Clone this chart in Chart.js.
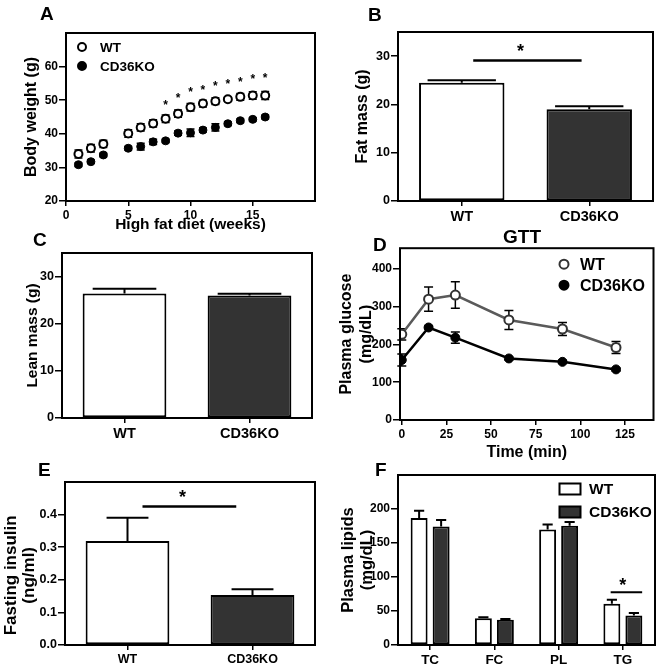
<!DOCTYPE html>
<html>
<head>
<meta charset="utf-8">
<script src="https://cdn.jsdelivr.net/npm/chart.js@4.4.1/dist/chart.umd.min.js"></script>
<style>
  html, body { margin: 0; padding: 0; background: #fff; }
  #fig { position: relative; width: 660px; height: 667px; overflow: hidden;
         font-family: "Liberation Sans", Arial, sans-serif; font-weight: bold; }
  #fig canvas { position: absolute; }
  .lbl { position: absolute; font-size: 19px; line-height: 1; color: #000; white-space: nowrap; }
</style>
</head>
<body>
<div id="fig">
  <canvas id="chartA"></canvas>
  <canvas id="chartB"></canvas>
  <canvas id="chartC"></canvas>
  <canvas id="chartD"></canvas>
  <canvas id="chartE"></canvas>
  <canvas id="chartF"></canvas>
  <div class="lbl" style="left:40px;top:4px">A</div>
  <div class="lbl" style="left:368px;top:5px">B</div>
  <div class="lbl" style="left:33px;top:230px">C</div>
  <div class="lbl" style="left:373px;top:235px">D</div>
  <div class="lbl" style="left:503px;top:227px">GTT</div>
  <div class="lbl" style="left:38px;top:460px">E</div>
  <div class="lbl" style="left:375px;top:460px">F</div>
</div>
<script>
// ---- data ----
const weeks = [1, 2, 3, 5, 6, 7, 8, 9, 10, 11, 12, 13, 14, 15, 16];
const wtWeight = [34.0, 35.7, 37.0, 40.1, 41.9, 43.1, 44.5, 46.0, 47.9, 49.0, 49.7, 50.3, 51.0, 51.4, 51.4];
const wtWeightErr = [1.2, 1.1, 1.1, 1.1, 1.1, 1.1, 1.1, 1.1, 1.1, 1.0, 1.0, 0.6, 1.0, 1.1, 1.2];
const koWeight = [30.8, 31.7, 33.7, 35.7, 36.2, 37.6, 37.9, 40.2, 40.3, 41.1, 41.9, 43.0, 43.9, 44.3, 45.0];
const koWeightErr = [0.5, 0.5, 0.5, 0.5, 1.0, 0.8, 0.5, 0.6, 1.1, 0.6, 1.1, 0.5, 0.5, 0.5, 0.5];
const starWeeks = [8, 9, 10, 11, 12, 13, 14, 15, 16];
const starWeight = [49.3, 51.3, 53.2, 53.8, 55.0, 55.7, 56.3, 57.1, 57.5];
const weekTicks = [0, 5, 10, 15];
const weightTicks = [20, 30, 40, 50, 60];

const groups = ["WT", "CD36KO"];
const fatMass = [24.5, 19.0];
const fatMassErr = [0.5, 0.6];
const leanMass = [26.4, 26.0];
const leanMassErr = [1.0, 0.35];
const massTicks = [0, 10, 20, 30];

const gttTimes = [0, 15, 30, 60, 90, 120];
const wtGlucose = [227, 320, 331, 265, 241, 192];
const wtGlucoseErr = [15, 32, 35, 25, 17, 16];
const koGlucose = [159, 245, 218, 163, 154, 134];
const koGlucoseErr = [16, 4, 15, 4, 4, 4];
const timeTicks = [0, 25, 50, 75, 100, 125];
const glucoseTicks = [0, 100, 200, 300, 400];

const insulin = [0.319, 0.153];
const insulinErr = [0.071, 0.018];
const insulinTicks = [0, 0.1, 0.2, 0.3, 0.4];

const lipidClasses = ["TC", "FC", "PL", "TG"];
const wtLipids = [186.7, 39.5, 170.0, 60.7];
const wtLipidsErr = [10.8, 1.2, 7.3, 6.0];
const koLipids = [174.3, 37.0, 175.3, 43.5];
const koLipidsErr = [9.4, 1.2, 5.7, 3.5];
const lipidTicks = [0, 50, 100, 150, 200];

// ---- layout (canvas and plot box, page pixels) ----
const layoutA = { canvas: { l: 0, t: 22, r: 325, b: 240 }, box: { l: 66, t: 33, r: 315, b: 201 } };
const layoutB = { canvas: { l: 335, t: 22, r: 660, b: 225 }, box: { l: 398, t: 32, r: 653, b: 201 } };
const layoutC = { canvas: { l: 0, t: 243, r: 325, b: 445 }, box: { l: 62, t: 253, r: 312, b: 418 } };
const layoutD = { canvas: { l: 330, t: 240, r: 660, b: 470 }, box: { l: 400, t: 248, r: 655, b: 420 } };
const layoutE = { canvas: { l: 0, t: 470, r: 325, b: 667 }, box: { l: 65, t: 482, r: 315, b: 645 } };
const layoutF = { canvas: { l: 330, t: 465, r: 660, b: 667 }, box: { l: 398, t: 475, r: 655, b: 645 } };

const FONT = '"Liberation Sans", Arial, sans-serif';
const KO_FILL = "#333333";

function font(size, lh) {
  return { family: FONT, size: size, weight: "bold", lineHeight: lh || 1.2 };
}

function place(id, p) {
  const el = document.getElementById(id);
  el.width = p.canvas.r - p.canvas.l;
  el.height = p.canvas.b - p.canvas.t;
  el.style.left = p.canvas.l + "px";
  el.style.top = p.canvas.t + "px";
  el.style.width = el.width + "px";
  el.style.height = el.height + "px";
  return el;
}

function yAxis(p, o) {
  const tf = font(o.titleSize, o.titleLH);
  return {
    min: o.min,
    max: o.max,
    afterFit: (s) => { s.width = p.box.l - p.canvas.l; },
    afterBuildTicks: (s) => { s.ticks = o.ticks.map((v) => ({ value: v })); },
    ticks: { font: font(o.tickSize), color: "#000", padding: 1, callback: o.fmt || ((v) => v) },
    grid: { drawOnChartArea: false, tickLength: 7, color: "#000", lineWidth: 1.5 },
    border: { display: false },
    title: {
      display: true, text: o.title, font: tf, color: "#000",
      padding: { top: o.titleX - p.canvas.l - (tf.size * tf.lineHeight) / 2, bottom: 0 }
    }
  };
}

function xAxis(p, o) {
  const ax = {
    afterFit: (s) => { s.height = p.canvas.b - p.box.b; },
    ticks: { font: font(o.tickSize), color: "#000", padding: 2, maxRotation: 0, autoSkip: false },
    grid: { drawOnChartArea: false, tickLength: 5, color: "#000", lineWidth: 1.5, offset: false },
    border: { display: false }
  };
  if (o.type) {
    ax.type = o.type;
    ax.min = o.min;
    ax.max = o.max;
    ax.afterBuildTicks = (s) => { s.ticks = o.ticks.map((v) => ({ value: v })); };
  }
  if (o.title) {
    const tf = font(o.titleSize);
    ax.title = {
      display: true, text: o.title, font: tf, color: "#000",
      padding: { top: 0, bottom: p.canvas.b - o.titleY - (tf.size * tf.lineHeight) / 2 }
    };
  }
  return ax;
}

function baseOptions(p, scales, plugins) {
  return {
    responsive: false,
    animation: false,
    devicePixelRatio: 1,
    events: [],
    layout: { padding: { top: p.box.t - p.canvas.t, right: p.canvas.r - p.box.r, left: 0, bottom: 0 } },
    scales: scales,
    plugins: Object.assign({ legend: { display: false }, tooltip: { enabled: false } }, plugins)
  };
}

// ---- plugins ----
const frame = {
  id: "frame",
  afterDraw(chart) {
    const { ctx, chartArea: a } = chart;
    ctx.save();
    ctx.lineWidth = 2;
    ctx.strokeStyle = "#000";
    ctx.strokeRect(a.left, a.top, a.right - a.left, a.bottom - a.top);
    ctx.restore();
  }
};

function drawErrors(chart, o) {
  const { ctx } = chart;
  ctx.save();
  ctx.strokeStyle = "#000";
  ctx.lineWidth = o.lineWidth || 2;
  chart.data.datasets.forEach((ds, i) => {
    if (!ds.err) return;
    const meta = chart.getDatasetMeta(i);
    const ys = chart.scales[meta.yAxisID];
    meta.data.forEach((el, j) => {
      const raw = ds.data[j];
      const v = typeof raw === "object" ? raw.y : raw;
      const e = ds.err[j];
      const top = ys.getPixelForValue(v + e);
      const bot = o.upOnly ? el.y : ys.getPixelForValue(v - e);
      const half = o.capRatio ? (el.width * o.capRatio) / 2 : o.cap;
      ctx.beginPath();
      ctx.moveTo(el.x, top); ctx.lineTo(el.x, bot);
      ctx.moveTo(el.x - half, top); ctx.lineTo(el.x + half, top);
      if (!o.upOnly) { ctx.moveTo(el.x - half, bot); ctx.lineTo(el.x + half, bot); }
      ctx.stroke();
    });
  });
  ctx.restore();
}

const errorBars = {
  id: "errorBars",
  beforeDatasetsDraw(chart, args, o) { if (!o.upOnly) drawErrors(chart, o); },
  afterDatasetsDraw(chart, args, o) { if (o.upOnly) drawErrors(chart, o); }
};

const marks = {
  id: "marks",
  afterDatasetsDraw(chart, args, o) {
    const { ctx } = chart;
    const xs = chart.scales.x, ys = chart.scales.y;
    ctx.save();
    ctx.strokeStyle = "#000";
    ctx.fillStyle = "#000";
    ctx.lineWidth = o.lineWidth || 2.5;
    (o.lines || []).forEach((l) => {
      const y = ys.getPixelForValue(l.y);
      ctx.beginPath();
      ctx.moveTo(xs.getPixelForValue(l.x0), y);
      ctx.lineTo(xs.getPixelForValue(l.x1), y);
      ctx.stroke();
    });
    if (o.stars) {
      ctx.font = "bold " + o.starSize + "px " + FONT;
      ctx.textAlign = "center";
      ctx.textBaseline = "alphabetic";
      const m = ctx.measureText("*");
      const shift = (m.actualBoundingBoxAscent - m.actualBoundingBoxDescent) / 2;
      o.stars.x.forEach((v, i) => {
        ctx.fillText("*", xs.getPixelForValue(v), ys.getPixelForValue(o.stars.y[i]) + shift);
      });
    }
    ctx.restore();
  }
};

const innerLegend = {
  id: "innerLegend",
  afterDraw(chart, args, o) {
    if (!o.size) return;
    const { ctx, chartArea: a } = chart;
    ctx.save();
    chart.data.datasets.forEach((ds, i) => {
      const cx = a.left + o.x, cy = a.top + o.y + i * o.gap;
      ctx.lineWidth = 2;
      if (o.box) {
        ctx.fillStyle = ds.backgroundColor;
        ctx.strokeStyle = ds.borderColor;
        ctx.fillRect(cx - o.box[0] / 2, cy - o.box[1] / 2, o.box[0], o.box[1]);
        ctx.strokeRect(cx - o.box[0] / 2, cy - o.box[1] / 2, o.box[0], o.box[1]);
      } else {
        ctx.fillStyle = ds.pointBackgroundColor;
        ctx.strokeStyle = ds.pointBorderColor;
        ctx.beginPath();
        ctx.arc(cx, cy, o.r, 0, Math.PI * 2);
        ctx.fill();
        ctx.stroke();
      }
      ctx.fillStyle = "#000";
      ctx.font = "bold " + o.size + "px " + FONT;
      ctx.textAlign = "left";
      ctx.textBaseline = "middle";
      ctx.fillText(ds.label, cx + o.textDx, cy + 1);
    });
    ctx.restore();
  }
};

Chart.register(frame, errorBars, marks, innerLegend);

const pts = (xs, ys) => xs.map((x, i) => ({ x: x, y: ys[i] }));

// ---- A: body weight ----
new Chart(place("chartA", layoutA), {
  type: "scatter",
  data: {
    datasets: [
      { label: "WT", data: pts(weeks, wtWeight), err: wtWeightErr, pointRadius: 4, pointBorderWidth: 2,
        pointBackgroundColor: "#fff", pointBorderColor: "#000" },
      { label: "CD36KO", data: pts(weeks, koWeight), err: koWeightErr, pointRadius: 4, pointBorderWidth: 1,
        pointBackgroundColor: "#000", pointBorderColor: "#000" }
    ]
  },
  options: baseOptions(layoutA, {
    x: xAxis(layoutA, { type: "linear", min: 0, max: 20, ticks: weekTicks, tickSize: 12,
      title: "High fat diet (weeks)", titleSize: 15.5, titleY: 225 }),
    y: yAxis(layoutA, { min: 20, max: 70, ticks: weightTicks, tickSize: 12,
      title: "Body weight (g)", titleSize: 16, titleX: 32 })
  }, {
    errorBars: { cap: 4, lineWidth: 1.5 },
    marks: { stars: { x: starWeeks, y: starWeight }, starSize: 12 },
    innerLegend: { x: 16, y: 14, gap: 19, r: 4, textDx: 18, size: 13.5 }
  })
});

// ---- B: fat mass ----
new Chart(place("chartB", layoutB), {
  type: "bar",
  data: {
    labels: groups,
    datasets: [{ label: "Fat mass", data: fatMass, err: fatMassErr, backgroundColor: ["#fff", KO_FILL],
      borderColor: "#000", borderWidth: 2, borderSkipped: false, barPercentage: 0.67, categoryPercentage: 1 }]
  },
  options: baseOptions(layoutB, {
    x: xAxis(layoutB, { tickSize: 14.5 }),
    y: yAxis(layoutB, { min: 0, max: 35, ticks: massTicks, tickSize: 12.5,
      title: "Fat mass (g)", titleSize: 16, titleX: 362.5 })
  }, {
    errorBars: { upOnly: true, capRatio: 0.8 },
    marks: { lines: [{ x0: 0.09, x1: 0.94, y: 29.1 }], stars: { x: [0.46], y: [31.7] }, starSize: 18 }
  })
});

// ---- C: lean mass ----
new Chart(place("chartC", layoutC), {
  type: "bar",
  data: {
    labels: groups,
    datasets: [{ label: "Lean mass", data: leanMass, err: leanMassErr, backgroundColor: ["#fff", KO_FILL],
      borderColor: "#000", borderWidth: 2, borderSkipped: false, barPercentage: 0.67, categoryPercentage: 1 }]
  },
  options: baseOptions(layoutC, {
    x: xAxis(layoutC, { tickSize: 14.5 }),
    y: yAxis(layoutC, { min: 0, max: 35, ticks: massTicks, tickSize: 12.5,
      title: "Lean mass (g)", titleSize: 15.5, titleX: 33 })
  }, {
    errorBars: { upOnly: true, capRatio: 0.76 }
  })
});

// ---- D: GTT ----
new Chart(place("chartD", layoutD), {
  type: "line",
  data: {
    datasets: [
      { label: "WT", data: pts(gttTimes, wtGlucose), err: wtGlucoseErr, borderColor: "#5a5a5a", borderWidth: 2.5,
        pointRadius: 4.5, pointBorderWidth: 2, pointBackgroundColor: "#fff", pointBorderColor: "#333", tension: 0 },
      { label: "CD36KO", data: pts(gttTimes, koGlucose), err: koGlucoseErr, borderColor: "#000", borderWidth: 2.5,
        pointRadius: 4.5, pointBorderWidth: 1, pointBackgroundColor: "#000", pointBorderColor: "#000", tension: 0 }
    ]
  },
  options: baseOptions(layoutD, {
    x: xAxis(layoutD, { type: "linear", min: -1, max: 141, ticks: timeTicks, tickSize: 12,
      title: "Time (min)", titleSize: 16, titleY: 453 }),
    y: yAxis(layoutD, { min: 0, max: 455, ticks: glucoseTicks, tickSize: 12,
      title: ["Plasma glucose", "(mg/dL)"], titleSize: 16, titleX: 347 })
  }, {
    errorBars: { cap: 4.5, lineWidth: 1.5 },
    innerLegend: { x: 164, y: 16, gap: 21, r: 4.5, textDx: 16, size: 16 }
  })
});

// ---- E: fasting insulin ----
new Chart(place("chartE", layoutE), {
  type: "bar",
  data: {
    labels: groups,
    datasets: [{ label: "Insulin", data: insulin, err: insulinErr, backgroundColor: ["#fff", KO_FILL],
      borderColor: "#000", borderWidth: 2, borderSkipped: false, barPercentage: 0.67, categoryPercentage: 1 }]
  },
  options: baseOptions(layoutE, {
    x: xAxis(layoutE, { tickSize: 12.5 }),
    y: yAxis(layoutE, { min: 0, max: 0.5, ticks: insulinTicks, tickSize: 12.5, fmt: (v) => v.toFixed(1),
      title: ["Fasting insulin     ", "(ng/ml)     "], titleSize: 17, titleLH: 1.1, titleX: 11 })
  }, {
    errorBars: { upOnly: true, capRatio: 0.5 },
    marks: { lines: [{ x0: 0.12, x1: 0.87, y: 0.425 }], stars: { x: [0.44], y: [0.465] }, starSize: 18 }
  })
});

// ---- F: plasma lipids ----
new Chart(place("chartF", layoutF), {
  type: "bar",
  data: {
    labels: lipidClasses,
    datasets: [
      { label: "WT", data: wtLipids, err: wtLipidsErr, backgroundColor: "#fff", borderColor: "#000",
        borderWidth: 2, borderSkipped: false, barPercentage: 0.77, categoryPercentage: 0.685 },
      { label: "CD36KO", data: koLipids, err: koLipidsErr, backgroundColor: KO_FILL, borderColor: "#000",
        borderWidth: 2, borderSkipped: false, barPercentage: 0.77, categoryPercentage: 0.685 }
    ]
  },
  options: baseOptions(layoutF, {
    x: xAxis(layoutF, { tickSize: 13.5 }),
    y: yAxis(layoutF, { min: 0, max: 250, ticks: lipidTicks, tickSize: 12,
      title: ["Plasma lipids", "(mg/dL)"], titleSize: 16.5, titleX: 348 })
  }, {
    errorBars: { upOnly: true, capRatio: 0.6 },
    marks: { lines: [{ x0: 2.81, x1: 3.3, y: 77.5 }], stars: { x: [3.0], y: [93] }, starSize: 18, lineWidth: 2 },
    innerLegend: { box: [21, 11], x: 172, y: 14, gap: 23, textDx: 19, size: 15.5 }
  })
});
</script>
</body>
</html>
